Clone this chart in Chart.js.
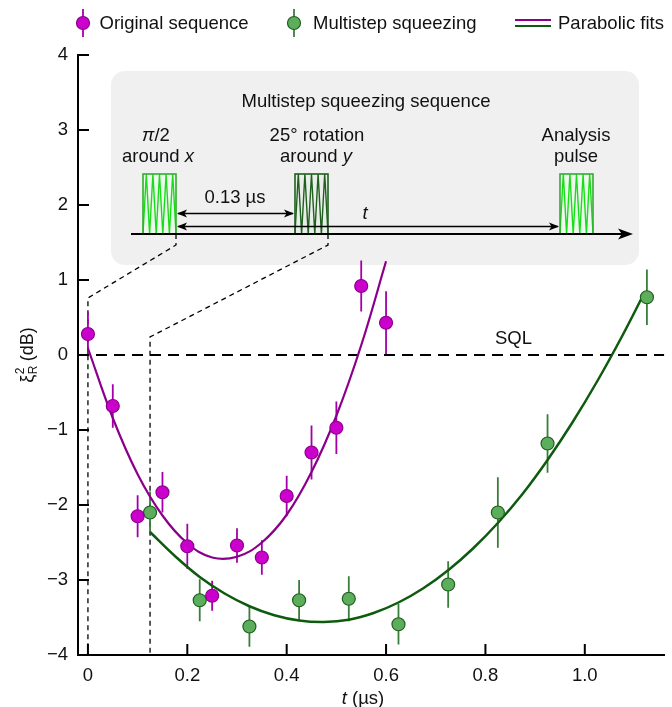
<!DOCTYPE html>
<html>
<head>
<meta charset="utf-8">
<script src="https://cdn.jsdelivr.net/npm/chart.js@4.4.1/dist/chart.umd.min.js"></script>
<style>
  html, body { margin: 0; padding: 0; background: #fff; }
  canvas { display: block; }
</style>
</head>
<body>
<canvas id="chart" width="672" height="707"></canvas>
<script>
// original sequence (t in us, xi^2 in dB, error)
const origT = [0, 0.05, 0.1, 0.15, 0.2, 0.25, 0.3, 0.35, 0.4, 0.45, 0.5, 0.55, 0.6];
const origXi = [0.28, -0.68, -2.15, -1.83, -2.55, -3.21, -2.54, -2.7, -1.88, -1.3, -0.97, 0.92, 0.43];
const origErr = [0.29, 0.29, 0.28, 0.27, 0.3, 0.2, 0.23, 0.23, 0.27, 0.36, 0.35, 0.34, 0.42];

// multistep squeezing
const multiT = [0.125, 0.225, 0.325, 0.425, 0.525, 0.625, 0.725, 0.825, 0.925, 1.125];
const multiXi = [-2.1, -3.27, -3.62, -3.27, -3.25, -3.59, -3.06, -2.1, -1.18, 0.77];
const multiErr = [0.28, 0.28, 0.27, 0.27, 0.3, 0.27, 0.31, 0.47, 0.39, 0.37];

// parabolic fits
const fitOrigT = [0, 0.05, 0.1, 0.15, 0.2, 0.25, 0.3, 0.35, 0.4, 0.45, 0.5, 0.55, 0.6];
const fitOrigXi = [0.09, -0.84, -1.59, -2.14, -2.51, -2.70, -2.69, -2.50, -2.13, -1.56, -0.81, 0.13, 1.25];
const fitMultiT = [0.125, 0.175, 0.225, 0.275, 0.325, 0.375, 0.425, 0.475, 0.525, 0.575, 0.625,
                   0.675, 0.725, 0.775, 0.825, 0.875, 0.925, 0.975, 1.025, 1.075, 1.12];
const fitMultiXi = [-2.36, -2.68, -2.96, -3.18, -3.35, -3.47, -3.54, -3.56, -3.53, -3.44, -3.30,
                    -3.11, -2.87, -2.58, -2.24, -1.85, -1.40, -0.90, -0.35, 0.25, 0.83];

const xTicks = [0, 0.2, 0.4, 0.6, 0.8, 1.0];
const yTicks = [-4, -3, -2, -1, 0, 1, 2, 3, 4];
const xRange = [-0.02, 1.16];
const sqlLevel = 0;

const PURPLE_FILL = '#cc00cc', PURPLE_EDGE = '#8a008a', PURPLE_BAR = '#a300a8', PURPLE_FIT = '#8b008b';
const GREEN_FILL = '#5cae5c', GREEN_EDGE = '#1f5f1f', GREEN_BAR = '#3b7d3b', GREEN_FIT = '#0e5a0e';
const FAMILY = '"Liberation Sans", Arial, Helvetica, sans-serif';
const font = (size, style) => (style || '') + ' ' + size + 'px ' + FAMILY;

const pts = (xs, ys) => xs.map((v, i) => ({ x: v, y: ys[i] }));

// draw text made of differently styled parts, centred on cx
function richText(ctx, parts, cx, cy) {
    let w = 0;
    parts.forEach(p => { ctx.font = p.f; p.w = ctx.measureText(p.t).width; w += p.w; });
    let x = cx - w / 2;
    ctx.textAlign = 'left';
    ctx.textBaseline = 'middle';
    parts.forEach(p => { ctx.font = p.f; ctx.fillText(p.t, x, cy); x += p.w; });
}

function arrowHead(ctx, x, y, dir, len, half) {
    ctx.beginPath();
    ctx.moveTo(x, y);
    ctx.lineTo(x - dir * len, y - half);
    ctx.lineTo(x - dir * len * 0.75, y);
    ctx.lineTo(x - dir * len, y + half);
    ctx.closePath();
    ctx.fill();
}

function pulse(ctx, x0, x1, y0, y1, edge, wave, bg) {
    ctx.fillStyle = bg;
    ctx.fillRect(x0, y0, x1 - x0, y1 - y0);
    ctx.strokeStyle = wave;
    ctx.lineWidth = 1.4;
    ctx.beginPath();
    const n = 10;
    for (let i = 0; i <= n; i++) {
        const px = x0 + (x1 - x0) * i / n;
        const py = i % 2 === 0 ? y1 : y0;
        if (i === 0) ctx.moveTo(px, py); else ctx.lineTo(px, py);
    }
    ctx.stroke();
    ctx.strokeStyle = edge;
    ctx.lineWidth = 1.6;
    ctx.strokeRect(x0, y0, x1 - x0, y1 - y0);
}

function marker(ctx, x, y, fill, edge, bar) {
    ctx.strokeStyle = bar;
    ctx.lineWidth = 1.8;
    ctx.beginPath();
    ctx.moveTo(x, y - 14);
    ctx.lineTo(x, y + 14);
    ctx.stroke();
    ctx.beginPath();
    ctx.arc(x, y, 6.5, 0, Math.PI * 2);
    ctx.fillStyle = fill;
    ctx.fill();
    ctx.strokeStyle = edge;
    ctx.lineWidth = 1.2;
    ctx.stroke();
}

const insetPlugin = {
    id: 'inset',
    beforeDatasetsDraw(chart) {
        const { ctx, scales: { x, y } } = chart;
        ctx.save();

        // grey inset box
        ctx.fillStyle = '#f0f0f0';
        ctx.beginPath();
        ctx.roundRect(111, 71, 528, 194, 14);
        ctx.fill();

        ctx.fillStyle = '#111';
        richText(ctx, [{ t: 'Multistep squeezing sequence', f: font(18.5) }], 366, 102);
        richText(ctx, [{ t: 'π', f: font(18.5, 'italic') }, { t: '/2', f: font(18.5) }], 156, 136);
        richText(ctx, [{ t: 'around ', f: font(18.5) }, { t: 'x', f: font(18.5, 'italic') }], 158, 157);
        richText(ctx, [{ t: '25° rotation', f: font(18.5) }], 317, 136);
        richText(ctx, [{ t: 'around ', f: font(18.5) }, { t: 'y', f: font(18.5, 'italic') }], 316, 157);
        richText(ctx, [{ t: 'Analysis', f: font(18.5) }], 576, 136);
        richText(ctx, [{ t: 'pulse', f: font(18.5) }], 576, 157);
        richText(ctx, [{ t: '0.13 µs', f: font(18.5) }], 235, 198);
        richText(ctx, [{ t: 't', f: font(18.5, 'italic') }], 365, 214);

        // pulses
        pulse(ctx, 143, 176, 174, 234, '#2fae2f', '#19dd19', '#eef8ee');
        pulse(ctx, 295, 328, 174, 234, '#1f5f1f', '#1f5f1f', '#e9eee9');
        pulse(ctx, 560, 593, 174, 234, '#2fae2f', '#19dd19', '#eef8ee');

        // double arrows
        ctx.strokeStyle = '#000';
        ctx.fillStyle = '#000';
        ctx.lineWidth = 1.3;
        ctx.beginPath();
        ctx.moveTo(178, 213.5); ctx.lineTo(293, 213.5);
        ctx.moveTo(178, 226.5); ctx.lineTo(558, 226.5);
        ctx.stroke();
        arrowHead(ctx, 177, 213.5, -1, 10, 4);
        arrowHead(ctx, 294, 213.5, 1, 10, 4);
        arrowHead(ctx, 177, 226.5, -1, 10, 4);
        arrowHead(ctx, 559, 226.5, 1, 10, 4);

        // time line
        ctx.lineWidth = 2;
        ctx.beginPath();
        ctx.moveTo(131, 234); ctx.lineTo(625, 234);
        ctx.stroke();
        arrowHead(ctx, 633, 234, 1, 15, 5.5);

        // dashed connectors down to t = 0 and t = 0.125
        ctx.lineWidth = 1.3;
        ctx.setLineDash([5, 4]);
        const bottom = y.getPixelForValue(yTicks[0]);
        ctx.beginPath();
        ctx.moveTo(176, 234); ctx.lineTo(176, 245);
        ctx.lineTo(x.getPixelForValue(origT[0]), 298);
        ctx.lineTo(x.getPixelForValue(origT[0]), bottom);
        ctx.moveTo(328, 234); ctx.lineTo(328, 245);
        ctx.lineTo(x.getPixelForValue(multiT[0]), 337);
        ctx.lineTo(x.getPixelForValue(multiT[0]), bottom);
        ctx.stroke();
        ctx.setLineDash([]);

        // error bars
        const bars = (ts, vs, es, color) => {
            ctx.strokeStyle = color;
            ctx.lineWidth = 1.8;
            ctx.beginPath();
            ts.forEach((t, i) => {
                const px = x.getPixelForValue(t);
                ctx.moveTo(px, y.getPixelForValue(vs[i] + es[i]));
                ctx.lineTo(px, y.getPixelForValue(vs[i] - es[i]));
            });
            ctx.stroke();
        };
        bars(origT, origXi, origErr, PURPLE_BAR);
        bars(multiT, multiXi, multiErr, GREEN_BAR);

        // SQL label
        ctx.fillStyle = '#111';
        ctx.font = font(18.5);
        ctx.textAlign = 'left';
        ctx.textBaseline = 'middle';
        ctx.fillText('SQL', 495, y.getPixelForValue(sqlLevel) - 16);
        ctx.restore();
    },
    afterDraw(chart) {
        const { ctx, chartArea: a, scales: { x, y } } = chart;
        ctx.save();

        // inward tick marks
        ctx.strokeStyle = '#000';
        ctx.lineWidth = 2;
        ctx.beginPath();
        yTicks.forEach(v => {
            const py = y.getPixelForValue(v);
            ctx.moveTo(a.left, py); ctx.lineTo(a.left + 11, py);
        });
        xTicks.forEach(v => {
            const px = x.getPixelForValue(v);
            ctx.moveTo(px, a.bottom); ctx.lineTo(px, a.bottom - 11);
        });
        ctx.stroke();

        // axis titles
        ctx.fillStyle = '#111';
        richText(ctx, [{ t: 't', f: font(18.5, 'italic') }, { t: ' (µs)', f: font(18.5) }], 363, 699);

        ctx.translate(28, 355);
        ctx.rotate(-Math.PI / 2);
        ctx.textBaseline = 'middle';
        ctx.textAlign = 'left';
        ctx.font = font(18);
        const wXi = ctx.measureText('ξ').width;
        const wDb = ctx.measureText(' (dB)').width;
        ctx.font = font(12);
        const wS = Math.max(ctx.measureText('2').width, ctx.measureText('R').width);
        let sx = -(wXi + wS + wDb) / 2;
        ctx.font = font(18);
        ctx.fillText('ξ', sx, 0);
        ctx.font = font(12);
        ctx.fillText('2', sx + wXi + 0.5, -7);
        ctx.fillText('R', sx + wXi + 0.5, 6);
        ctx.font = font(18);
        ctx.fillText(' (dB)', sx + wXi + wS, 0);
        ctx.setTransform(1, 0, 0, 1, 0, 0);

        // legend
        const ly = 23;
        marker(ctx, 83, ly, PURPLE_FILL, PURPLE_EDGE, PURPLE_BAR);
        marker(ctx, 294, ly, GREEN_FILL, GREEN_EDGE, GREEN_BAR);
        ctx.lineWidth = 2.2;
        ctx.strokeStyle = PURPLE_FIT;
        ctx.beginPath(); ctx.moveTo(515, ly - 3); ctx.lineTo(551, ly - 3); ctx.stroke();
        ctx.strokeStyle = GREEN_FIT;
        ctx.beginPath(); ctx.moveTo(515, ly + 3); ctx.lineTo(551, ly + 3); ctx.stroke();
        ctx.fillStyle = '#111';
        ctx.font = font(18.5);
        ctx.textAlign = 'left';
        ctx.textBaseline = 'middle';
        const ds = chart.data.datasets;
        ctx.fillText(ds[0].label, 99.5, ly + 1);
        ctx.fillText(ds[1].label, 313, ly + 1);
        ctx.fillText('Parabolic fits', 558, ly + 1);
        ctx.restore();
    }
};

const ctx = document.getElementById('chart').getContext('2d');
new Chart(ctx, {
    type: 'scatter',
    data: {
        datasets: [
            {
                label: 'Original sequence',
                data: pts(origT, origXi),
                backgroundColor: PURPLE_FILL,
                borderColor: PURPLE_EDGE,
                borderWidth: 1.2,
                pointRadius: 6.5
            },
            {
                label: 'Multistep squeezing',
                data: pts(multiT, multiXi),
                backgroundColor: GREEN_FILL,
                borderColor: GREEN_EDGE,
                borderWidth: 1.2,
                pointRadius: 6.5
            },
            {
                label: 'Parabolic fit (original)',
                type: 'line',
                data: pts(fitOrigT, fitOrigXi),
                borderColor: PURPLE_FIT,
                borderWidth: 2.2,
                pointRadius: 0,
                tension: 0.4,
                fill: false
            },
            {
                label: 'Parabolic fit (multistep)',
                type: 'line',
                data: pts(fitMultiT, fitMultiXi),
                borderColor: GREEN_FIT,
                borderWidth: 2.5,
                pointRadius: 0,
                tension: 0.4,
                fill: false
            },
            {
                label: 'SQL',
                type: 'line',
                data: pts(xRange, [sqlLevel, sqlLevel]),
                borderColor: '#000',
                borderWidth: 2.2,
                borderDash: [11, 7],
                pointRadius: 0,
                fill: false
            }
        ]
    },
    options: {
        responsive: false,
        animation: false,
        layout: { padding: { top: 55, right: 4, left: 0, bottom: 0 } },
        plugins: {
            legend: { display: false },
            tooltip: { enabled: false }
        },
        scales: {
            x: {
                type: 'linear',
                min: xRange[0],
                max: xRange[1],
                afterBuildTicks: s => { s.ticks = xTicks.map(v => ({ value: v })); },
                afterFit: s => { s.height = 52; },
                grid: { display: false, drawTicks: false },
                border: { display: true, color: '#000', width: 2 },
                ticks: {
                    padding: 10,
                    color: '#111',
                    font: { family: FAMILY, size: 18.5 },
                    callback: v => v === 0 ? '0' : v.toFixed(1)
                }
            },
            y: {
                min: yTicks[0],
                max: yTicks[yTicks.length - 1],
                afterBuildTicks: s => { s.ticks = yTicks.map(v => ({ value: v })); },
                afterFit: s => { s.width = 78; },
                grid: { display: false, drawTicks: false },
                border: { display: true, color: '#000', width: 2 },
                ticks: {
                    padding: 10,
                    color: '#111',
                    font: { family: FAMILY, size: 18.5 },
                    callback: v => v < 0 ? '−' + Math.abs(v) : String(v)
                }
            }
        }
    },
    plugins: [insetPlugin]
});
</script>
</body>
</html>
